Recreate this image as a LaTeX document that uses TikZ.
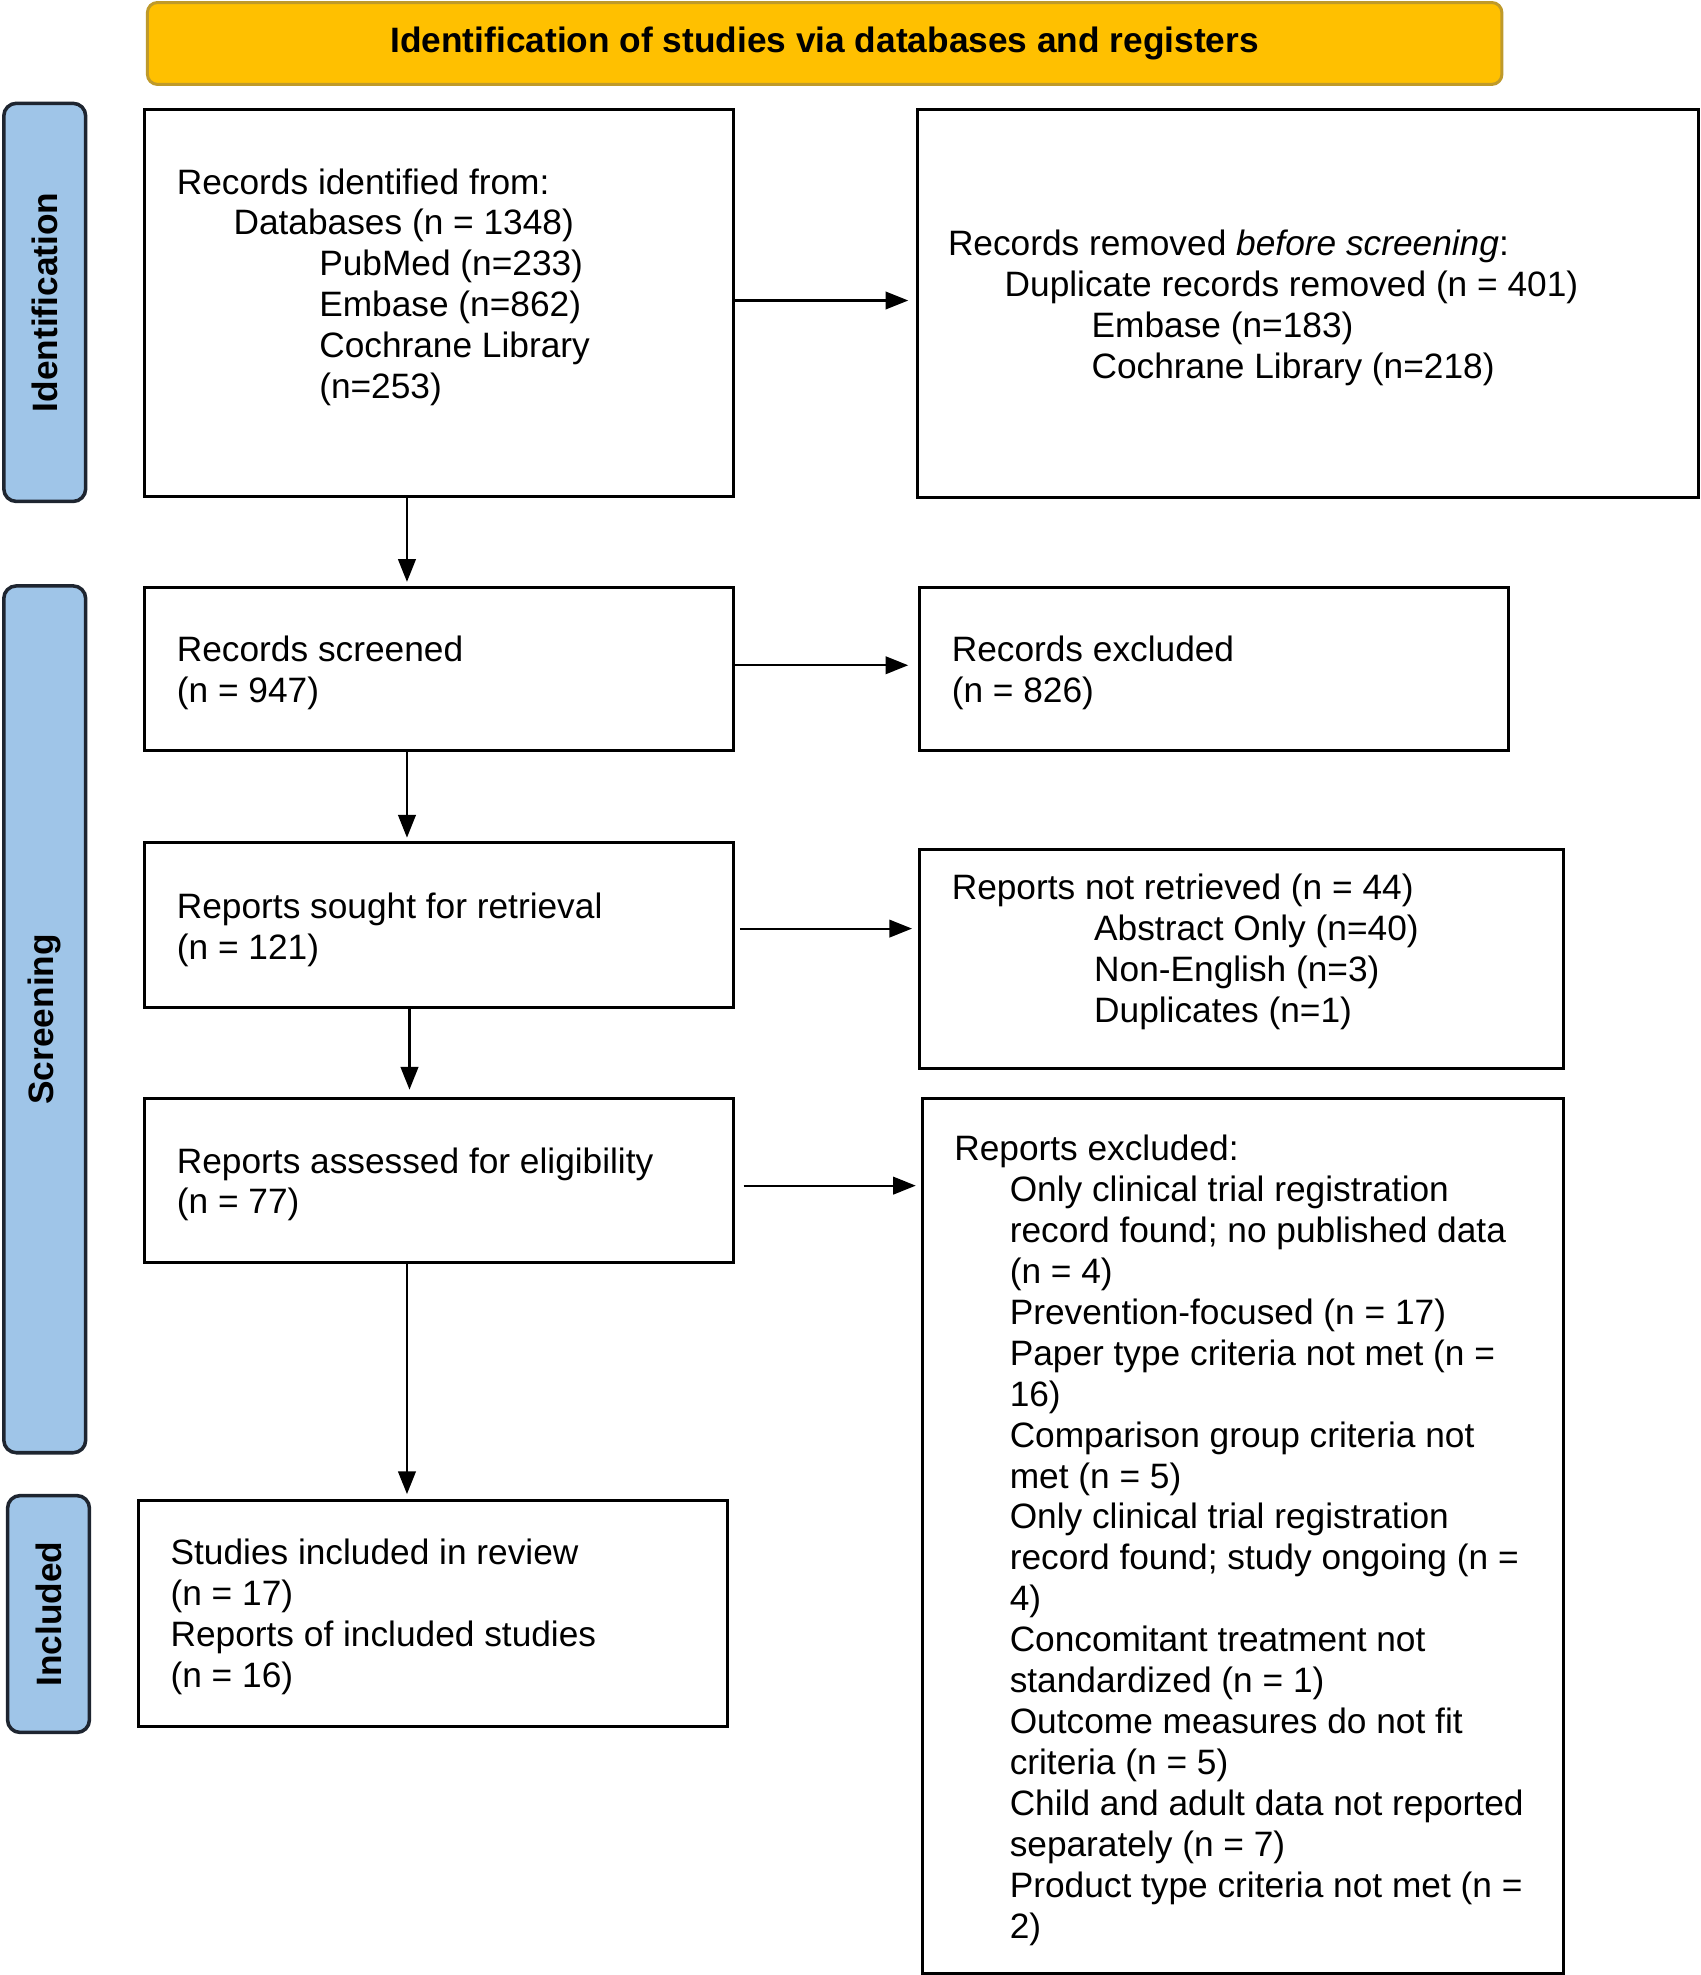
\documentclass[tikz,border=0pt]{standalone}
\usepackage{fontspec}
\setmainfont{Liberation Sans}
\usetikzlibrary{arrows.meta}
\definecolor{titlefill}{HTML}{FFC000}
\definecolor{titledraw}{HTML}{BF9A2A}
\definecolor{barfill}{HTML}{9FC5E8}
\definecolor{bardraw}{HTML}{1E2530}
\begin{document}
\begin{tikzpicture}[x=0.5pt,y=-0.5pt,
  every node/.append style={font=\fontsize{14}{16.25}\selectfont},
  box/.style={draw=black,line width=1.2pt,rectangle,inner sep=0pt},
  titlebox/.style={draw=titledraw,fill=titlefill,line width=1.2pt,rounded corners=4pt,inner sep=0pt,font=\fontsize{14}{16.25}\selectfont\bfseries},
  bar/.style={draw=bardraw,fill=barfill,line width=1.4pt,rounded corners=5pt,inner sep=0pt,rotate=90,font=\fontsize{14}{16.25}\selectfont\bfseries,minimum height=32.5pt},
  txt/.style={anchor=base west,inner sep=0pt},
  arr/.style={-{Triangle[length=9pt,width=7pt]},line width=0.8pt}]
\useasboundingbox (0,0) rectangle (1350,1567.5);
% title
\node[titlebox,minimum width=537.5pt,minimum height=32.5pt] (T) at (654.5,34.5) {Identification of studies via databases and registers};
% side bars
\node[bar,minimum width=158pt] (S1) at (35.5,240) {Identification};
\node[bar,minimum width=344pt] (S2) at (35.5,809) {Screening};
\node[bar,minimum width=94pt] (S3) at (38.5,1281) {Included};
% boxes
\node[box,minimum width=233.5pt,minimum height=153.5pt] (A) at (348.5,240.5) {};
\node[box,minimum width=310pt,minimum height=154pt] (B) at (1038,241) {};
\node[box,minimum width=233.5pt,minimum height=65pt] (C) at (348.5,531) {};
\node[box,minimum width=233.5pt,minimum height=65pt] (D) at (963.5,531) {};
\node[box,minimum width=233.5pt,minimum height=65.5pt] (E) at (348.5,734.5) {};
\node[box,minimum width=255.5pt,minimum height=87pt] (F) at (985.5,761) {};
\node[box,minimum width=233.5pt,minimum height=65pt] (G) at (348.5,937) {};
\node[box,minimum width=254.5pt,minimum height=347pt] (H) at (986.5,1219) {};
\node[box,minimum width=233.5pt,minimum height=89.5pt] (I) at (343.5,1280.5) {};
% texts
\node[txt] (tA) at (140,154) {\begin{tabular}[t]{@{}l@{}}
Records identified from:\\
\hspace*{22.5pt}Databases (n = 1348)\\
\hspace*{56.5pt}PubMed (n=233)\\
\hspace*{56.5pt}Embase (n=862)\\
\hspace*{56.5pt}Cochrane Library\\
\hspace*{56.5pt}(n=253)\end{tabular}};
\node[txt] (tB) at (752,203) {\begin{tabular}[t]{@{}l@{}}
Records removed \textit{before screening}:\\
\hspace*{22.5pt}Duplicate records removed (n = 401)\\
\hspace*{57pt}Embase (n=183)\\
\hspace*{57pt}Cochrane Library (n=218)\end{tabular}};
\node[txt] (tC) at (140,525) {\begin{tabular}[t]{@{}l@{}}
Records screened\\
(n = 947)\end{tabular}};
\node[txt] (tD) at (755,525) {\begin{tabular}[t]{@{}l@{}}
Records excluded\\
(n = 826)\end{tabular}};
\node[txt] (tE) at (140,729) {\begin{tabular}[t]{@{}l@{}}
Reports sought for retrieval\\
(n = 121)\end{tabular}};
\node[txt] (tF) at (755,714) {\begin{tabular}[t]{@{}l@{}}
Reports not retrieved (n = 44)\\
\hspace*{56.5pt}Abstract Only (n=40)\\
\hspace*{56.5pt}Non-English (n=3)\\
\hspace*{56.5pt}Duplicates (n=1)\end{tabular}};
\node[txt] (tG) at (140,931) {\begin{tabular}[t]{@{}l@{}}
Reports assessed for eligibility\\
(n = 77)\end{tabular}};
\node[txt] (tH) at (757,921) {\begin{tabular}[t]{@{}l@{}}
Reports excluded:\\
\hspace*{22pt}Only clinical trial registration\\
\hspace*{22pt}record found; no published data\\
\hspace*{22pt}(n = 4)\\
\hspace*{22pt}Prevention-focused (n = 17)\\
\hspace*{22pt}Paper type criteria not met (n =\\
\hspace*{22pt}16)\\
\hspace*{22pt}Comparison group criteria not\\
\hspace*{22pt}met (n = 5)\\
\hspace*{22pt}Only clinical trial registration\\
\hspace*{22pt}record found; study ongoing (n =\\
\hspace*{22pt}4)\\
\hspace*{22pt}Concomitant treatment not\\
\hspace*{22pt}standardized (n = 1)\\
\hspace*{22pt}Outcome measures do not fit\\
\hspace*{22pt}criteria (n = 5)\\
\hspace*{22pt}Child and adult data not reported\\
\hspace*{22pt}separately (n = 7)\\
\hspace*{22pt}Product type criteria not met (n =\\
\hspace*{22pt}2)\end{tabular}};
\node[txt] (tI) at (135,1242) {\begin{tabular}[t]{@{}l@{}}
Studies included in review\\
(n = 17)\\
Reports of included studies\\
(n = 16)\end{tabular}};
% vertical arrows
\draw[arr,shorten >=1.5pt] (A.south -| 323,0) -- (C.north -| 323,0);
\draw[arr,shorten >=1.5pt] (C.south -| 323,0) -- (E.north -| 323,0);
\draw[arr,shorten >=3pt] (E.south -| 325,0) -- (G.north -| 325,0);
\draw[arr,shorten >=2pt] (G.south -| 323,0) -- (I.north -| 323,0);
% horizontal arrows
\draw[arr,shorten >=3pt] ([yshift=1pt]A.east) -- ([yshift=1pt]A.east -| B.west);
\draw[arr,shorten >=4pt] ([yshift=1.5pt]C.east) -- ([yshift=1.5pt]C.east -| D.west);
\draw[arr,shorten <=2pt,shorten >=2.5pt] ([yshift=-1.25pt]E.east) -- ([yshift=-1.25pt]E.east -| F.west);
\draw[arr,shorten <=3.5pt,shorten >=2pt] ([yshift=-2pt]G.east) -- ([yshift=-2pt]G.east -| H.west);
\end{tikzpicture}
\end{document}
